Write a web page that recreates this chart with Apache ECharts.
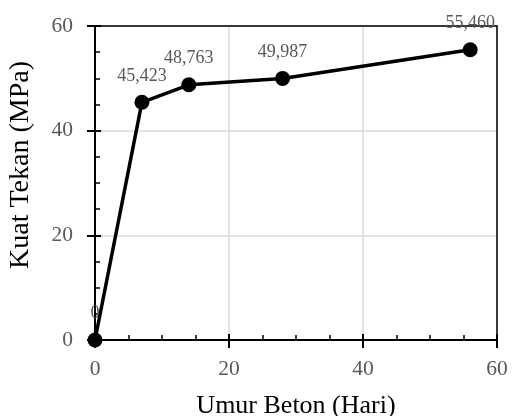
<!DOCTYPE html>
<html>
<head>
<meta charset="utf-8">
<script src="https://cdn.jsdelivr.net/npm/echarts@6/dist/echarts.min.js"></script>
<style>
  html, body { margin: 0; padding: 0; background: #fff; }
  #chart { width: 512px; height: 416px; }
</style>
</head>
<body>
<div id="chart"></div>
<script>
// umur beton (hari) vs kuat tekan (MPa)
var umurHari = [0, 7, 14, 28, 56];
var kuatTekan = [0, 45.423, 48.763, 49.987, 55.460];
var xTicks = { min: 0, max: 60, interval: 20 };
var yTicks = { min: 0, max: 60, interval: 20 };

var font = '"Liberation Serif", "Times New Roman", serif';
var grey = '#595959';

var pts = umurHari.map(function (d, i) { return [d, kuatTekan[i]]; });

var fmtLabel = function (p) {
    var v = p.value[1];
    return v === 0 ? '0' : v.toFixed(3).replace('.', ',');
};

// frame line on the opposite side (top / right)
var frameAxis = function (t, pos) {
    return {
        type: 'value', min: t.min, max: t.max, interval: t.interval, position: pos,
        axisLine: { show: true, onZero: false, lineStyle: { color: '#000', width: 1.5 } },
        axisTick: { show: false }, axisLabel: { show: false }, splitLine: { show: false }
    };
};
// inward major + minor ticks
var innerTickAxis = function (t, pos) {
    return {
        type: 'value', min: t.min, max: t.max, interval: t.interval, position: pos,
        axisLine: { show: false },
        axisTick: { show: true, inside: true, length: 6, lineStyle: { color: '#000', width: 2 } },
        minorTick: { show: true, splitNumber: 4, length: 5, lineStyle: { color: '#000', width: 1.5 } },
        axisLabel: { show: false }, splitLine: { show: false }
    };
};

var chart = echarts.init(document.getElementById('chart'), null, { renderer: 'canvas' });
chart.setOption({
    animation: false,
    backgroundColor: '#fff',
    grid: { left: 95, right: 15, top: 26, bottom: 76, containLabel: false, outerBoundsMode: 'none' },
    xAxis: [{
        type: 'value', min: xTicks.min, max: xTicks.max, interval: xTicks.interval,
        name: 'Umur Beton (Hari)', nameLocation: 'middle', nameGap: 53,
        nameTextStyle: { fontFamily: font, fontSize: 26, color: '#000' },
        axisLine: { show: true, onZero: false, lineStyle: { color: '#000', width: 2 } },
        axisTick: { show: true, length: 8, lineStyle: { color: '#000', width: 2 } },
        axisLabel: { fontFamily: font, fontSize: 21.5, color: grey, margin: 18 },
        splitLine: { show: true, lineStyle: { color: '#d9d9d9', width: 1.5 } }
    }, innerTickAxis(xTicks, 'bottom'), frameAxis(xTicks, 'top')],
    yAxis: [{
        type: 'value', min: yTicks.min, max: yTicks.max, interval: yTicks.interval,
        name: 'Kuat Tekan (MPa)', nameLocation: 'middle', nameGap: 60,
        nameTextStyle: { fontFamily: font, fontSize: 28, color: '#000', padding: [0, 0, 0, 36] },
        axisLine: { show: true, onZero: false, lineStyle: { color: '#000', width: 2 } },
        axisTick: { show: true, length: 8, lineStyle: { color: '#000', width: 2 } },
        axisLabel: { fontFamily: font, fontSize: 21.5, color: grey, margin: 22 },
        splitLine: { show: true, lineStyle: { color: '#d9d9d9', width: 1.5 } }
    }, innerTickAxis(yTicks, 'left'), frameAxis(yTicks, 'right')],
    series: [{
        type: 'line',
        xAxisIndex: 0, yAxisIndex: 0,
        data: pts,
        symbol: 'circle', symbolSize: 15,
        lineStyle: { color: '#000', width: 3.5 },
        itemStyle: { color: '#000' },
        label: {
            show: true, position: 'top', distance: 10,
            fontFamily: font, fontSize: 18, color: grey,
            formatter: fmtLabel
        }
    }]
});
</script>
</body>
</html>
